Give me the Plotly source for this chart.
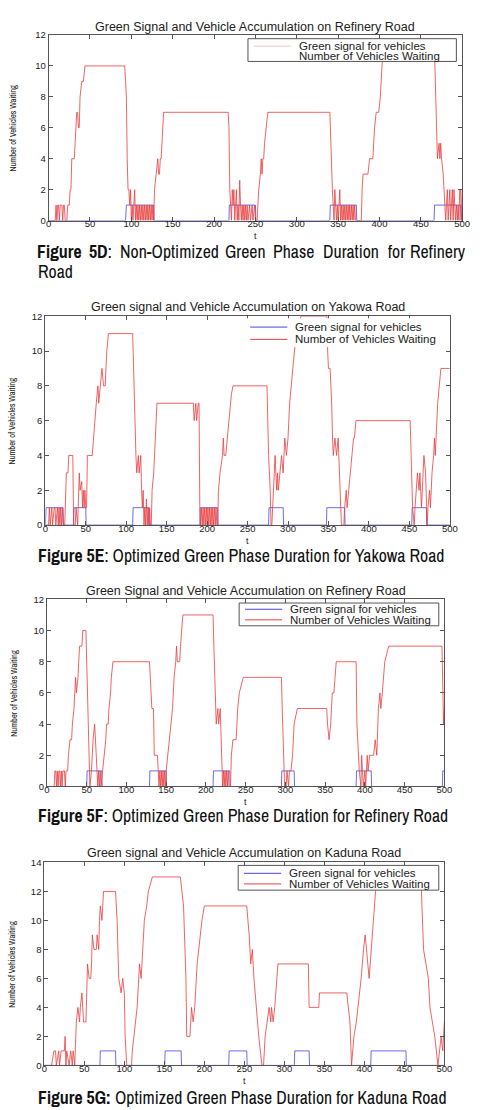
import plotly.graph_objects as go

# ---------------- DATA ----------------
t_ticks = [0, 50, 100, 150, 200, 250, 300, 350, 400, 450, 500]

# Plot 1: Non-optimized, Refinery Road
p1_green = [(0,0),(93,0),(94,1),(127,1),(127.5,0),(218,0),(218.5,1),(250,1),(250.5,0),(340,0),(340.5,1),(372,1),(372.5,0),(466,0),(466.5,1),(498,1),(498.5,0),(500,0)]
p1_wait = [(0,0),(8,0),(9,1),(10,0),(11,1),(12,1),(13,0),(14,1),(16,1),(17,0),(18,1),(19,1),(20,0),(22,0),(23,1),(25,1),(26,2),(27,2),(28,4),(31,4),(32,5),(34,7),(35,7),(36,6),(37,6),(38,8),(40,9),(42,9),(44,10),(92,10),(93,9),(94,8),(95,4),(96,2),(97,2),(98,1),(99,2),(100,0),(101,1),(102,0),(103,1),(104,2),(105,0),(106,1),(107,0),(108,1),(109,0),(110,1),(111,0),(112,1),(113,0),(114,1),(115,0),(116,1),(117,0),(118,1),(119,0),(120,1),(121,0),(122,1),(123,0),(124,1),(125,0),(126,1),(127,0),(128,2),(130,3),(132,4),(133,3),(134,3),(135,4),(136,4),(137,5),(139,7),(217,7),(218,6),(219,2),(220,1),(221,0),(222,2),(223,1),(224,2),(225,0),(226,1),(227,2),(228,0),(229,1),(230,0),(231,2.6),(232,1),(233,0),(234,1),(235,0),(236,1),(237,0),(238,1),(239,0),(240,1),(241,0),(243,1),(244,0),(246,1),(247,0),(249,1),(250,0),(252,0),(253,1),(254,2),(256,3),(257,4),(258,3),(259,4),(260,4),(261,5),(263,6),(265,7),(340,7),(341,5),(342,4),(343,2),(344,1),(345,0),(346,2),(347,1),(348,0),(349,1),(350,0),(351,1),(352,2),(353,0),(354,1),(355,0),(356,1),(357,0),(358,1),(359,0),(360,1),(361,0),(362,1),(363,0),(364,1),(365,0),(366,1),(367,0),(368,1),(369,0),(370,1),(371,0),(378,0),(379,2),(380,3),(386,3),(388,4),(392,4),(394,6),(396,7),(399,7),(401,8),(403,10),(405,11),(466,11),(467,10),(468,8),(469,6),(470,4),(472,5),(473,4),(474,5),(475,4),(477,3),(478,2),(479,1),(480,0),(481,1),(482,2),(483,0),(484,1),(485,2),(486,0),(487,1),(488,2),(489,0),(490,2),(491,1),(492,0),(493,1),(494,0),(495,1),(496,0),(497,2),(498,2),(499,0),(500,2)]

# Plot 2: Optimized, Yakowa Road
p2_green = [(0,0),(1,1),(22,1),(22.5,0),(35,0),(35.5,1),(50,1),(50.5,0),(108,0),(108.5,1),(128,1),(128.5,0),(191,0),(191.5,1),(213,1),(213.5,0),(276,0),(276.5,1),(294,1),(294.5,0),(347.5,0),(348,1),(370,1),(370.5,0),(453,0),(453.5,1),(471,1),(471.5,0),(500,0)]
p2_wait = [(0,0),(4,0),(5,1),(6,0),(8,1),(9,0),(11,1),(12,1),(13,0),(15,1),(16,0),(17,1),(18,0),(19,1),(20,0),(21,1),(22,0),(24,0),(26,3),(28,3),(29,4),(34,4),(35,0),(37,0),(38,1),(40,0),(42,3),(43,2),(45,2.5),(46,1),(47,2),(48,1),(49,2),(50,1),(51,1),(52,4),(58,4),(61,6),(63,7),(65,8),(66,7),(68,8),(70,9),(72,8),(74,8),(76,10),(78,11),(108,11),(109,9),(110,7),(112,4),(113,3),(115,4),(116,3),(118,4),(119,2),(120,1),(121,2),(122,0),(123,1),(124,0),(125,1.5),(126,0),(127,1),(128,0),(129,1),(130,0),(131,0),(132,2),(134,3),(136,5),(138,7),(183,7),(184,6),(186,7),(187,6),(189,7),(190,7),(191,1),(192,0),(193,1),(194,0),(195,1),(196,0),(197,1),(198,0),(199,1),(200,0),(201,1),(202,0),(203,1),(204,0),(205,1),(206,0),(207,1),(208,0),(209,1),(210,0),(211,1),(212,0),(213,0),(214,2),(216,3),(219,4),(220,5),(221,4),(223,4),(225,5),(227,6),(230,7.5),(232,8),(274,8),(275,6),(276,4),(278,2),(279,0),(280,0),(281,1),(283,3),(284,4),(286,2),(287,3),(288,2),(290,3),(292,4),(294,3),(296,5),(298,4),(300,5),(302,7),(304,8),(306,9),(308,10),(310,11),(316,12),(348,12),(349,10),(350,9),(352,9),(354,7),(355,5),(356,4),(358,5),(360,4),(362,5),(364,2),(366,0),(369,0),(370,1),(372,2),(373,1),(375,2),(377,3),(379,4),(381,5),(382,5),(384,6),(451,6),(452,4),(454,1),(456,0),(457,1),(460,3),(462,2),(463,3),(465,1),(467,3),(468,4),(470,3),(472,0),(473,1),(475,2),(476,1),(478,3),(480,4),(481,5),(482,4),(484,6),(485,7),(487,8),(489,9),(500,9)]

# Plot 3: Optimized, Refinery Road
p3_green = [(0,0),(50,0),(50.5,1),(69,1),(69.5,0),(129,0),(129.5,1),(150,1),(150.5,0),(209,0),(209.5,1),(230,1),(230.5,0),(295,0),(295.5,1),(311,1),(311.5,0),(389,0),(389.5,1),(408,1),(408.5,0),(497.5,0),(498,1),(500,1)]
p3_wait = [(0,0),(9,0),(10,1),(11,1),(12,0),(13,1),(14,0),(15,1),(16,1),(17,0),(18,1),(19,0),(20,1),(22,1),(23,0),(24,1),(26,1),(27,2),(29,3),(31,3),(32,4),(34,5),(35,6),(36,7),(37,6),(39,7),(40,8),(41,9),(44,9),(45,10),(49,10),(50,8),(52,5),(53,2),(54,0),(56,1),(58,3),(60,4),(61,3),(63,1),(64,0),(65,1),(66,0),(67,1),(68,0),(70,1),(72,2),(74,3),(75,4),(77,4),(78,5),(80,6),(81,7),(83,8),(129,8),(131,6),(132,5),(134,5),(135,2),(139,2),(140,1),(141,0),(142,1),(143,0),(144,1),(145,0),(146,1),(147,0),(148,1),(149,0),(150,1),(152,2),(154,3),(156,4),(158,5),(160,7),(162,8),(163,9),(164,8),(167,8),(168,9),(171,11),(209,11),(210,9),(212,6),(213,4),(215,5),(216,4),(218,5),(219,3),(220,1),(221,0),(222,1),(223,0),(224,1),(225,0),(226,1),(227,0),(228,1),(229,0),(231,0),(232,2),(234,3),(238,3),(240,5),(242,6),(247,7),(295,7),(296,5),(298,2),(299,0),(301,0),(302,1),(304,0),(305,1),(307,1),(309,2),(311,4),(315,5),(352,5),(353,4),(355,3),(357,4),(359,6),(361,6),(364,8),(389,8),(390,4),(392,2),(393,1),(395,0),(396,2),(397,1),(398,0),(400,1),(401,0),(403,2),(404,1),(406,2),(409,2),(411,2),(413,3),(415,2),(417,5),(419,6),(420,5),(422,6),(425,8),(430,9),(497,9),(498,7),(499,4),(500,5)]

# Plot 4: Optimized, Kaduna Road
p4_green = [(0,0),(69.5,0),(70,1),(89,1),(89.5,0),(150.5,0),(151,1),(171,1),(171.5,0),(230.5,0),(231,1),(253,1),(253.5,0),(312.5,0),(313,1),(331,1),(331.5,0),(408,0),(408.5,1),(452,1),(452.5,0),(500,0)]
p4_wait = [(0,0),(9,0),(12,1),(14,1),(15,0),(18,1),(19,0),(21,1),(25,1),(26,2),(27,0),(28,1),(31,0),(33,1),(35,0),(36,1),(38,0),(40,3),(42,4),(44,3),(45,4),(47,5),(49,3),(52,3),(53,5),(54,7),(56,6),(58,6),(59,7),(60,9),(62,8),(65,8),(66,9),(68,8),(69,10),(70,11),(72,10),(74,12),(89,12),(91,10),(93,6),(96,5),(98,6),(100,5),(101,2),(103,0),(109,0),(110,1),(112,2),(114,3),(116,4),(119,7),(121,6),(125,10),(128,11),(130,12),(135,13),(170,13),(174,11),(177,6),(178,2),(182,2),(184,4),(186,3),(188,4),(191,7),(195,9),(197,10),(200,11),(253,11),(256,9),(258,7),(260,8),(261,7),(262,6),(268,2),(270,1),(272,0),(274,0),(276,2),(281,4),(283,3),(284,4),(286,3),(288,4),(292,7),(330,7),(331,4),(343,4),(344,5),(378,5),(382,3),(384,0),(387,2),(390,3),(396,6),(399,8),(401,9),(406,6),(410,9),(414,12),(417,13),(471,13),(472,11),(474,8),(477,7),(480,6),(482,4),(485,3),(488,2),(492,0),(496,2),(498,1),(500,3)]

titles = ["Green Signal and Vehicle Accumulation on Refinery Road",
          "Green signal and Vehicle Accumulation on Yakowa Road",
          "Green Signal and Vehicle Accumulation on Refinery Road",
          "Green signal and Vehicle Accumulation on Kaduna Road"]
legend_names = ["Green signal for vehicles", "Number of Vehicles Waiting"]
y_label = "Number of Vehicles Waiting"
y_max = [12, 12, 12, 14]

# ---------------- LAYOUT HELPERS ----------------
W, H = 480, 1110
def px(x): return x / W
def py(y): return 1 - y / H

boxes = [(46.7, 470, 29.3, 216.7),
         (43.3, 457.3, 313.3, 524.3),
         (45, 451.7, 599.3, 788.3),
         (42.3, 451.7, 865, 1070)]
title_y = [21.7, 304, 590.7, 855]
ylab_x = [10, 9, 11, 9]
legends = [(250.7, 464, 33, 56, 40.5, 50.5),
           (247, 452, 316, 344, 324.3, 336.7),
           (241.7, 446, 603, 626, 609.3, 620),
           (240.7, 446, 868, 893, 876, 886.7)]

BLUE = "#4646e6"
RED = "#ea3c3c"
SANS = "Liberation Sans, Arial, sans-serif"
NARROW = "Archivo Narrow, Liberation Sans Narrow, Arial Narrow, Liberation Sans, sans-serif"

series = [(p1_green, p1_wait), (p2_green, p2_wait), (p3_green, p3_wait), (p4_green, p4_wait)]

fig = go.Figure()
annotations = []
shapes = []

for i, (green, wait) in enumerate(series):
    n = "" if i == 0 else str(i + 1)
    xa, ya = "x" + n, "y" + n
    fig.add_trace(go.Scatter(x=[p[0] for p in green], y=[p[1] for p in green], mode="lines",
                             line=dict(color=BLUE, width=0.8), name=legend_names[0],
                             xaxis=xa, yaxis=ya, showlegend=False))
    fig.add_trace(go.Scatter(x=[p[0] for p in wait], y=[p[1] for p in wait], mode="lines",
                             line=dict(color=RED, width=0.8), name=legend_names[1],
                             xaxis=xa, yaxis=ya, showlegend=False))
    l, r, t, b = boxes[i]
    axis_common = dict(showline=True, mirror="allticks", linecolor="#555", linewidth=1,
                       ticks="inside", ticklen=4, tickcolor="#555", showgrid=False, zeroline=False,
                       tickfont=dict(family=SANS, size=9.5, color="#222"))
    fig.update_layout(**{
        "xaxis" + n: dict(domain=[px(l), px(r)], range=[0, 500], tickvals=t_ticks,
                          anchor=ya, ticklabelstandoff=-6, **axis_common),
        "yaxis" + n: dict(domain=[py(b), py(t)], range=[0, y_max[i]], dtick=2,
                          anchor=xa, **axis_common),
    })
    cx = (l + r) / 2
    annotations.append(dict(text=titles[i], x=px(cx), y=py(title_y[i]), xref="paper", yref="paper",
                            showarrow=False, xanchor="center", yanchor="middle",
                            font=dict(family=SANS, size=12.5, color="#222")))
    annotations.append(dict(text="t", x=px(cx), y=py(b + 16), xref="paper", yref="paper",
                            showarrow=False, xanchor="center", yanchor="middle", borderpad=0,
                            font=dict(family=SANS, size=9, color="#222")))
    annotations.append(dict(text=y_label, x=px(ylab_x[i]), y=py((t + b) / 2), xref="paper", yref="paper",
                            showarrow=False, textangle=-90, xanchor="center", yanchor="middle",
                            font=dict(family=NARROW, size=8.5, color="#222")))
    ll, lr, lt, lb, e1, e2 = legends[i]
    shapes.append(dict(type="rect", xref="paper", yref="paper", x0=px(ll), x1=px(lr), y0=py(lb), y1=py(lt),
                       fillcolor="white", line=dict(color="#555" if i != 1 else "white", width=1), layer="above"))
    lx0, lx1 = ll + 6, ll + 44
    if i == 0:
        c1, c2 = "#f2c4c4", None
    else:
        c1, c2 = BLUE, RED
    for ey, col in ((e1, c1), (e2, c2)):
        if col:
            shapes.append(dict(type="line", xref="paper", yref="paper", x0=px(lx0), x1=px(lx1),
                               y0=py(ey), y1=py(ey), line=dict(color=col, width=1), layer="above"))
    for ey, txt in ((e1, legend_names[0]), (e2, legend_names[1])):
        annotations.append(dict(text=txt, x=px(lx1 + 6), y=py(ey), xref="paper", yref="paper",
                                showarrow=False, xanchor="left", yanchor="middle",
                                font=dict(family=SANS, size=11.5, color="#222")))

# ---------------- CAPTIONS ----------------
cap_font = dict(family=NARROW, size=17.8, color="#111")
cap1_words = [("<b>Figure</b>", 58), ("<b>5D</b>:", 100), ("Non-Optimized", 170.5),
              ("Green", 248), ("Phase", 297.5), ("Duration", 356), ("for", 402.5), ("Refinery", 445)]
for w, x in cap1_words:
    annotations.append(dict(text=w, x=px(x), y=py(248), xref="paper", yref="paper", showarrow=False,
                            xanchor="center", yanchor="middle", borderpad=0, font=cap_font))
annotations.append(dict(text="Road", x=px(35), y=py(268.5), xref="paper", yref="paper", showarrow=False,
                        xanchor="left", yanchor="middle", borderpad=0, font=cap_font))
captions = [("<b>Figure 5E</b>: Optimized Green Phase Duration for Yakowa Road", 555.7),
            ("<b>Figure 5F</b>: Optimized Green Phase Duration for Refinery Road", 818),
            ("<b>Figure 5G:</b> Optimized Green Phase Duration for Kaduna Road", 1102.7)]
for txt, y in captions:
    annotations.append(dict(text=txt, x=px(35), y=py(y), xref="paper", yref="paper", showarrow=False,
                            xanchor="left", yanchor="middle", borderpad=0, font=cap_font))

fig.update_layout(width=W, height=H, margin=dict(l=0, r=0, t=0, b=0),
                  paper_bgcolor="white", plot_bgcolor="white",
                  annotations=annotations, shapes=shapes, showlegend=False)

fig.write_html("out.html")
